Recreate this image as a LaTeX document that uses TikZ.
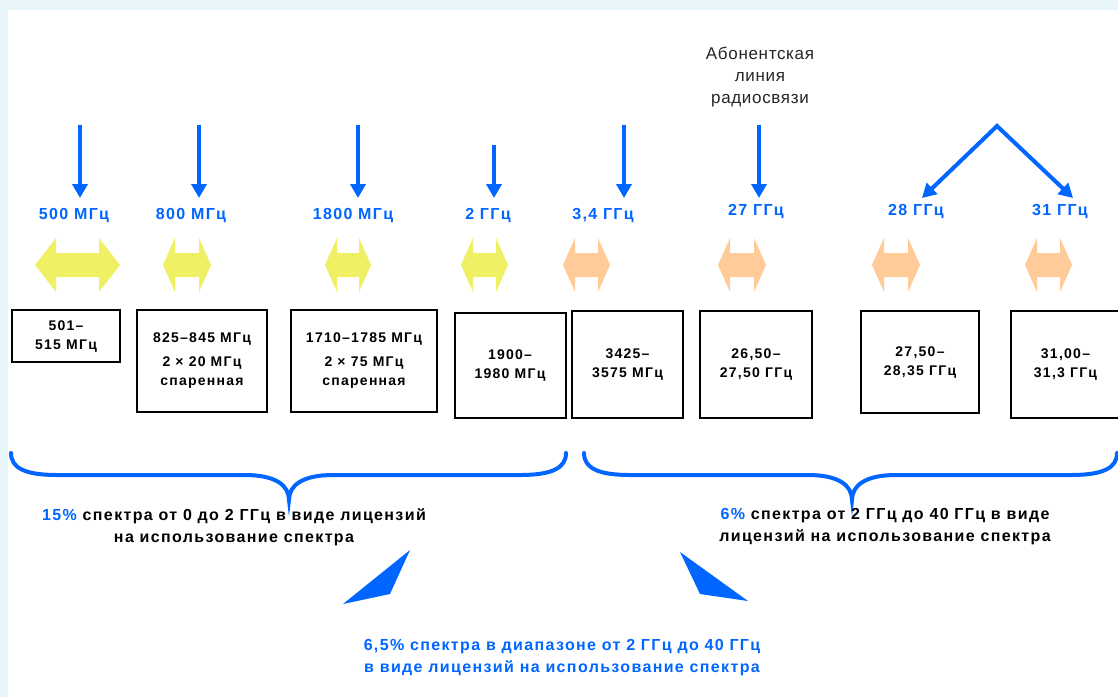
\documentclass[tikz,border=0pt]{standalone}
\usepackage{fontspec}
\setmainfont{Liberation Sans}
\newfontfamily\widefont[LetterSpace=8.5]{Liberation Sans}
\newfontfamily\boxfontfam[LetterSpace=9]{Liberation Sans}
\newfontfamily\thinfont[LetterSpace=4]{Liberation Sans}
\usetikzlibrary{arrows.meta}
\definecolor{bl}{HTML}{0066FF}
\definecolor{bgl}{HTML}{E8F6FC}
\definecolor{yel}{HTML}{F0F064}
\definecolor{ora}{HTML}{FFCC99}
\begin{document}
\begin{tikzpicture}[x=1pt,y=-1pt,
 freqbox/.style={draw=black, line width=2pt, fill=white, align=center, inner sep=0pt,
   font=\boxfontfam\bfseries\fontsize{14}{19}\selectfont},
 freqlbl/.style={text=bl, inner sep=0pt, font=\widefont\bfseries\fontsize{16}{18}\selectfont},
 downarr/.style={draw=bl, line width=4pt, -{Triangle[length=14pt,width=15pt]}},
 vee/.style={draw=bl, line width=4pt, line join=miter, {Triangle[length=14pt,width=15pt]}-{Triangle[length=14pt,width=15pt]}},
 bracestyle/.style={draw=bl, line width=4pt, line cap=round},
 note/.style={align=center, inner sep=0pt, font=\widefont\bfseries\fontsize{16}{22}\selectfont},
 toptext/.style={align=center, inner sep=0pt, text=black!85, font=\thinfont\fontsize{17}{22}\selectfont}
]
\useasboundingbox (0,0) rectangle (1118,697);
\fill[bgl] (0,0) rectangle (1118,697);
\fill[white] (8,10) rectangle (1118,697);

% top caption
\node[toptext] (abon) at (760,77) {Абонентская\\линия\\радиосвязи};

% frequency labels
\node[freqlbl] (l1) at (74,216) {500 МГц};
\node[freqlbl] (l2) at (191,216) {800 МГц};
\node[freqlbl] (l3) at (353,216) {1800 МГц};
\node[freqlbl] (l4) at (488,216) {2 ГГц};
\node[freqlbl] (l5) at (603,216) {3,4 ГГц};
\node[freqlbl] (l6) at (756,212) {27 ГГц};
\node[freqlbl] (l7) at (916,212) {28 ГГц};
\node[freqlbl] (l8) at (1060,212) {31 ГГц};

% down arrows
\coordinate (s1) at (80,125);   \coordinate (e1) at (80,198);
\coordinate (s2) at (199,125);  \coordinate (e2) at (199,198);
\coordinate (s3) at (358,125);  \coordinate (e3) at (358,198);
\coordinate (s4) at (494,145);  \coordinate (e4) at (494,198);
\coordinate (s5) at (624,125);  \coordinate (e5) at (624,198);
\coordinate (s6) at (759,125);  \coordinate (e6) at (759,198);
\foreach \i in {1,...,6} \draw[downarr] (s\i) -- (e\i);
\coordinate (apex) at (997,126);
\coordinate (v1) at (922,198);
\coordinate (v2) at (1073,198);
\draw[vee] (v1) -- (apex) -- (v2);

% double arrows
\foreach \l/\r/\h/\c in {35/120/21/yel, 163/211/12/yel, 325/371/12/yel, 461/508/12/yel,
                          563/610/12/ora, 718/766/12/ora, 872/920/12/ora, 1025/1072/12/ora}
  \fill[\c] (\l,265) -- (\l+\h,238) -- (\l+\h,253) -- (\r-\h,253) -- (\r-\h,238) -- (\r,265)
            -- (\r-\h,292) -- (\r-\h,277) -- (\l+\h,277) -- (\l+\h,292) -- cycle;

% boxes
\node[freqbox, minimum width=108pt, minimum height=52pt] (b1) at (66,336) {501–\\515 МГц};
\node[freqbox, minimum width=130pt, minimum height=102pt] (b2) at (202,361) {825–845 МГц\\[5pt]2 × 20 МГц\\спаренная};
\node[freqbox, minimum width=146pt, minimum height=102pt] (b3) at (364,361) {1710–1785 МГц\\[5pt]2 × 75 МГц\\спаренная};
\node[freqbox, minimum width=111pt, minimum height=105pt] (b4) at (510,365) {1900–\\1980 МГц};
\node[freqbox, minimum width=111pt, minimum height=107pt] (b5) at (627.5,364.5) {3425–\\3575 МГц};
\node[freqbox, minimum width=112pt, minimum height=107pt] (b6) at (756,364.5) {26,50–\\27,50 ГГц};
\node[freqbox, minimum width=118pt, minimum height=102pt] (b7) at (920,362) {27,50–\\28,35 ГГц};
\node[freqbox, minimum width=109pt, minimum height=107pt] (b8) at (1065.5,364.5) {31,00–\\31,3 ГГц};

% braces
\draw[bracestyle] (11,453) .. controls (11,468) and (25,475) .. (57,475) -- (245,475)
  .. controls (275,475) and (289,485) .. (289,500)
  .. controls (289,485) and (303,475) .. (333,475) -- (520,475)
  .. controls (552,475) and (566,468) .. (566,453);
\draw[bracestyle] (584,453) .. controls (584,468) and (598,475) .. (630,475) -- (808,475)
  .. controls (838,475) and (852,485) .. (852,500)
  .. controls (852,485) and (866,475) .. (896,475) -- (1071,475)
  .. controls (1103,475) and (1117,468) .. (1117,453);

% notes
\node[note] (t1) at (234,527) {\textcolor{bl}{15\%} спектра от 0 до 2 ГГц в виде лицензий\\на использование спектра};
\node[note] (t2) at (885,527) {\textcolor{bl}{6\%} спектра от 2 ГГц до 40 ГГц в виде\\лицензий на использование спектра};
\node[note, text=bl] (t3) at (562,658) {6,5\% спектра в диапазоне от 2 ГГц до 40 ГГц\\в виде лицензий на использование спектра};

% wedges
\fill[bl] (410,550) -- (343,604) -- (390,594) -- cycle;
\fill[bl] (680,552) -- (700,594) -- (748,601) -- cycle;
\end{tikzpicture}
\end{document}
